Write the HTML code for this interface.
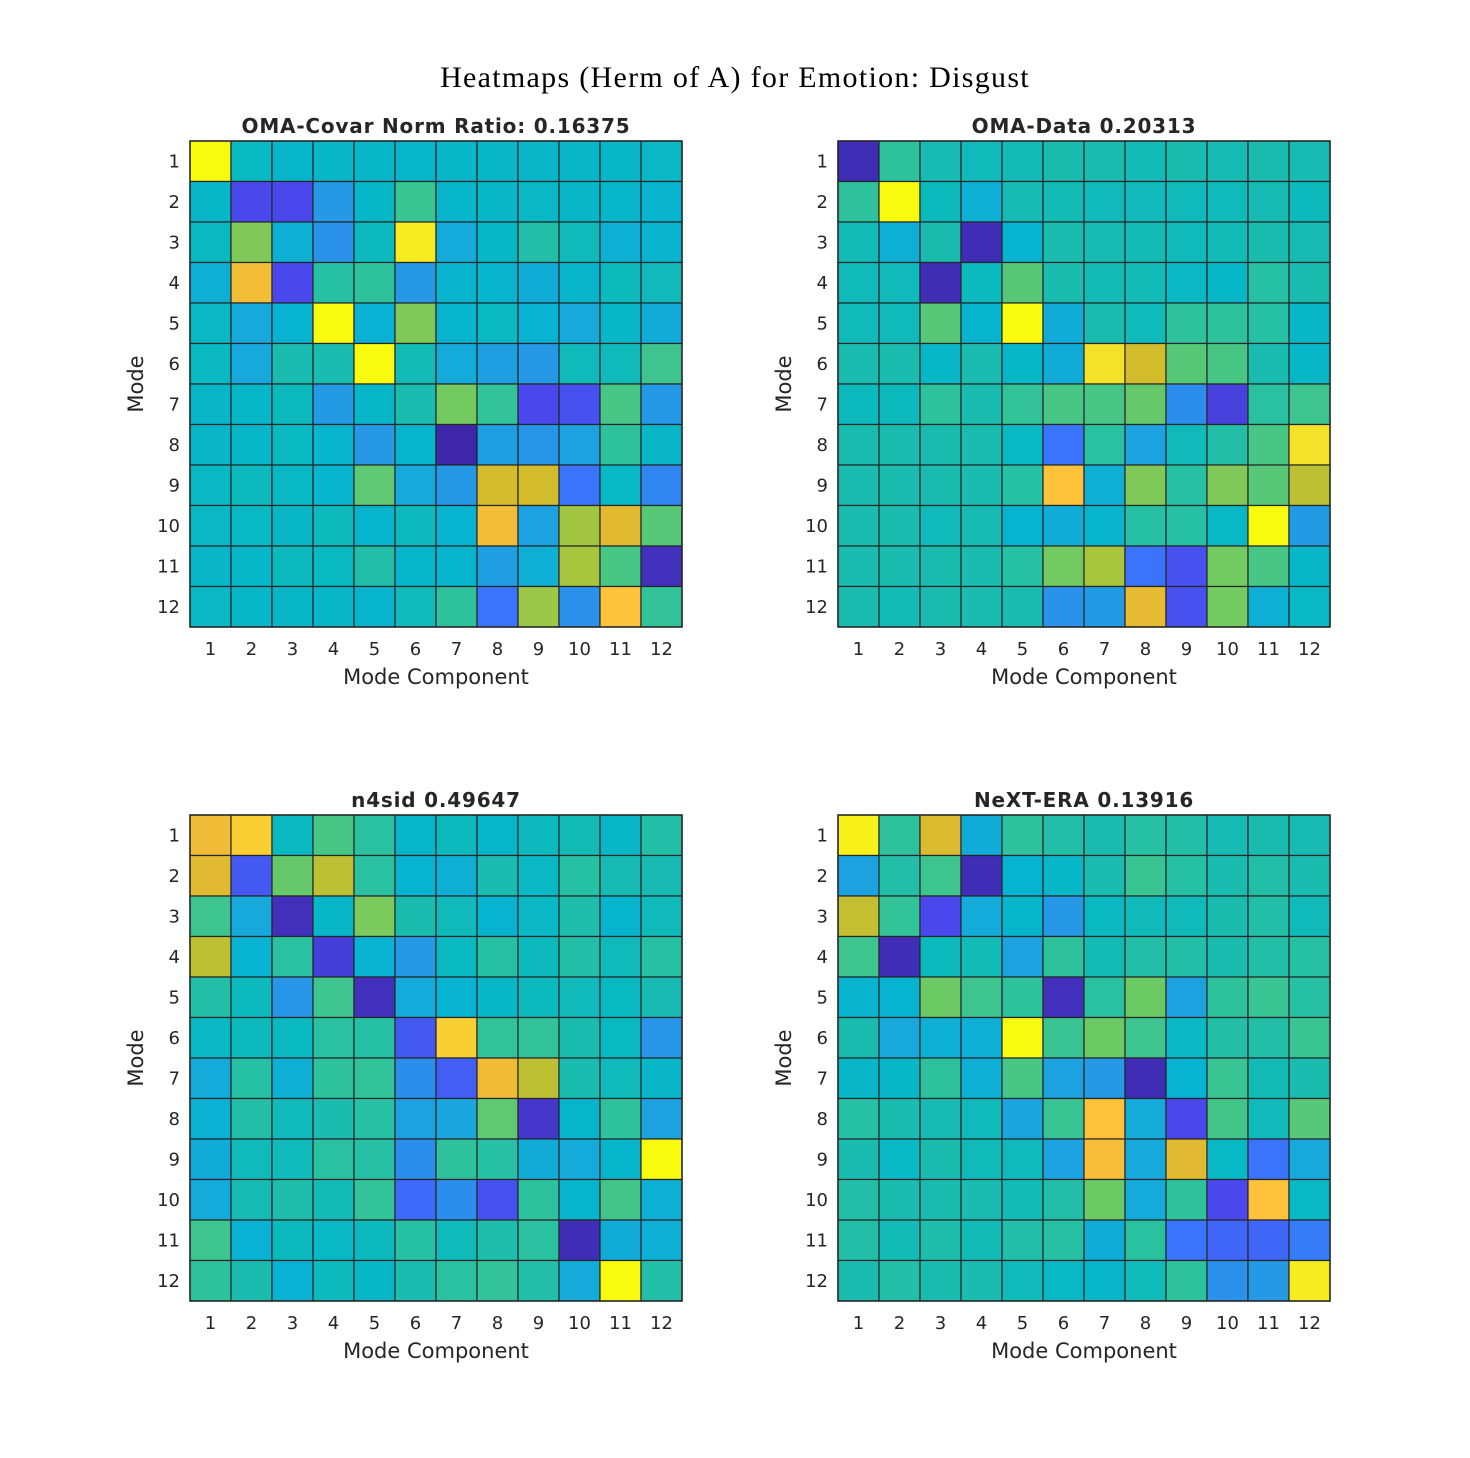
<!DOCTYPE html>
<html><head><meta charset="utf-8"><style>
html,body{margin:0;padding:0;background:#fff;}
svg{display:block;}
</style></head><body>
<svg id="fig" width="1470" height="1458" xmlns="http://www.w3.org/2000/svg">
<rect width="1470" height="1458" fill="#fff"/>
<text x="735" y="87" text-anchor="middle" font-family="'Liberation Serif',serif" font-size="30" letter-spacing="1.3" fill="#000">Heatmaps (Herm of A) for Emotion: Disgust</text>
</svg>
<script>
const rowLabels = ["1","2","3","4","5","6","7","8","9","10","11","12"];
const colLabels = ["1","2","3","4","5","6","7","8","9","10","11","12"];
const titles = ["OMA-Covar Norm Ratio: 0.16375","OMA-Data 0.20313","n4sid 0.49647","NeXT-ERA 0.13916"];
const omaCovar = [
[1.0,0.45,0.42,0.43,0.43,0.42,0.43,0.43,0.43,0.43,0.43,0.44],
[0.43,0.1,0.1,0.3,0.43,0.57,0.42,0.43,0.44,0.43,0.42,0.41],
[0.45,0.68,0.38,0.28,0.46,0.97,0.36,0.43,0.52,0.47,0.38,0.41],
[0.38,0.87,0.1,0.53,0.55,0.3,0.41,0.41,0.37,0.42,0.46,0.47],
[0.44,0.35,0.4,1.0,0.39,0.68,0.41,0.45,0.4,0.35,0.43,0.37],
[0.45,0.35,0.5,0.5,1.0,0.48,0.36,0.32,0.3,0.47,0.47,0.58],
[0.43,0.43,0.46,0.31,0.43,0.5,0.66,0.56,0.1,0.12,0.6,0.3],
[0.43,0.43,0.45,0.41,0.3,0.41,0.0,0.32,0.29,0.33,0.55,0.43],
[0.44,0.46,0.44,0.41,0.63,0.35,0.3,0.8,0.8,0.2,0.44,0.25],
[0.44,0.44,0.43,0.46,0.41,0.46,0.4,0.87,0.33,0.73,0.83,0.62],
[0.43,0.43,0.46,0.45,0.52,0.42,0.41,0.32,0.38,0.74,0.6,0.03],
[0.44,0.43,0.43,0.43,0.41,0.47,0.55,0.2,0.72,0.28,0.9,0.56]];
const omaData = [
[0.02,0.55,0.49,0.47,0.48,0.5,0.5,0.48,0.5,0.49,0.5,0.49],
[0.55,1.0,0.46,0.38,0.49,0.48,0.47,0.47,0.47,0.47,0.49,0.46],
[0.48,0.38,0.5,0.02,0.4,0.5,0.49,0.48,0.47,0.48,0.5,0.49],
[0.47,0.47,0.02,0.46,0.62,0.5,0.48,0.48,0.44,0.43,0.53,0.5],
[0.47,0.47,0.62,0.41,1.0,0.37,0.5,0.47,0.55,0.55,0.53,0.43],
[0.5,0.5,0.43,0.5,0.43,0.37,0.95,0.8,0.62,0.6,0.5,0.43],
[0.46,0.46,0.55,0.5,0.56,0.6,0.6,0.64,0.27,0.08,0.54,0.58],
[0.5,0.5,0.5,0.5,0.44,0.2,0.54,0.33,0.47,0.52,0.6,0.95],
[0.5,0.5,0.5,0.5,0.53,0.9,0.38,0.68,0.53,0.68,0.62,0.77],
[0.5,0.5,0.47,0.49,0.4,0.37,0.41,0.53,0.53,0.44,1.0,0.31],
[0.5,0.5,0.5,0.5,0.53,0.66,0.74,0.2,0.12,0.66,0.6,0.43],
[0.5,0.48,0.5,0.5,0.5,0.28,0.31,0.84,0.12,0.66,0.38,0.44]];
const n4sid = [
[0.86,0.92,0.45,0.6,0.54,0.42,0.46,0.42,0.46,0.48,0.43,0.52],
[0.83,0.14,0.64,0.77,0.54,0.4,0.38,0.5,0.44,0.53,0.49,0.49],
[0.58,0.35,0.03,0.43,0.67,0.5,0.47,0.4,0.44,0.51,0.41,0.47],
[0.77,0.4,0.54,0.07,0.39,0.3,0.45,0.53,0.46,0.52,0.47,0.53],
[0.52,0.46,0.29,0.58,0.03,0.36,0.4,0.43,0.46,0.47,0.45,0.49],
[0.44,0.46,0.45,0.54,0.53,0.14,0.92,0.56,0.56,0.5,0.45,0.29],
[0.36,0.53,0.38,0.55,0.56,0.27,0.15,0.86,0.77,0.5,0.47,0.43],
[0.39,0.52,0.47,0.5,0.53,0.33,0.34,0.63,0.05,0.42,0.55,0.33],
[0.37,0.47,0.47,0.54,0.53,0.27,0.55,0.53,0.37,0.36,0.42,1.0],
[0.36,0.49,0.51,0.48,0.56,0.18,0.27,0.12,0.55,0.41,0.59,0.38],
[0.58,0.39,0.46,0.44,0.46,0.53,0.47,0.51,0.54,0.02,0.37,0.38],
[0.55,0.5,0.39,0.46,0.43,0.5,0.54,0.56,0.52,0.36,1.0,0.52]];
const nextEra = [
[0.98,0.55,0.82,0.37,0.55,0.52,0.5,0.53,0.52,0.49,0.5,0.49],
[0.33,0.52,0.58,0.02,0.4,0.43,0.5,0.57,0.53,0.5,0.52,0.5],
[0.78,0.56,0.1,0.36,0.42,0.3,0.45,0.47,0.47,0.5,0.52,0.47],
[0.58,0.02,0.46,0.48,0.33,0.55,0.48,0.52,0.52,0.5,0.52,0.53],
[0.41,0.4,0.65,0.58,0.55,0.03,0.54,0.65,0.33,0.55,0.57,0.53],
[0.5,0.35,0.38,0.38,1.0,0.57,0.65,0.58,0.44,0.52,0.52,0.57],
[0.43,0.43,0.55,0.38,0.6,0.33,0.3,0.02,0.4,0.57,0.48,0.5],
[0.53,0.5,0.49,0.47,0.34,0.57,0.9,0.36,0.1,0.59,0.47,0.62],
[0.5,0.44,0.5,0.47,0.47,0.33,0.88,0.35,0.83,0.44,0.2,0.35],
[0.52,0.5,0.5,0.5,0.48,0.52,0.65,0.36,0.55,0.1,0.9,0.44],
[0.52,0.48,0.51,0.48,0.52,0.53,0.37,0.54,0.2,0.17,0.17,0.22],
[0.5,0.52,0.5,0.5,0.47,0.44,0.42,0.47,0.55,0.28,0.3,0.97]];
const datasets = [omaCovar, omaData, n4sid, nextEra];

const cmapStops = [[0,"#3e26a8"],[0.1,"#4a48ec"],[0.2,"#3a73fc"],[0.28,"#2a92ea"],[0.35,"#17a8dc"],[0.4,"#06b3d0"],[0.45,"#08b9c2"],[0.5,"#1bbcb0"],[0.55,"#2ec29c"],[0.6,"#48c686"],[0.65,"#6cca64"],[0.7,"#8ec952"],[0.75,"#b0c338"],[0.8,"#d2bc2c"],[0.85,"#ecb935"],[0.9,"#fec23b"],[0.95,"#f4e22a"],[1,"#f9fb0e"]];
function hex(h){return [1,3,5].map(i=>parseInt(h.substr(i,2),16));}
function cmap(v){
  v=Math.max(0,Math.min(1,v));
  for(let i=1;i<cmapStops.length;i++){
    if(v<=cmapStops[i][0]){
      const a=cmapStops[i-1],b=cmapStops[i];const t=(v-a[0])/(b[0]-a[0]);
      const ca=hex(a[1]),cb=hex(b[1]);
      return "rgb("+ca.map((c,k)=>Math.round(c+(cb[k]-c)*t)).join(",")+")";
    }
  }
  return cmapStops[cmapStops.length-1][1];
}
const NS="http://www.w3.org/2000/svg";
const svg=document.getElementById("fig");
function mk(tag,attrs,parent){const e=document.createElementNS(NS,tag);for(const k in attrs)e.setAttribute(k,attrs[k]);(parent||svg).appendChild(e);return e;}
const panels=[[190,141],[838,141],[190,815],[838,815]];
const W=492,H=486;
const font="'DejaVu Sans','Liberation Sans',sans-serif";
datasets.forEach((data,p)=>{
  const [x0,y0]=panels[p];
  const g=mk("g",{});
  
  
  const xs=j=>x0+j*W/colLabels.length;
  const ys=i=>y0+i*H/rowLabels.length;
  data.forEach((row,i)=>row.forEach((v,j)=>{
    const r=mk("rect",{x:xs(j),y:ys(i),width:W/colLabels.length,height:H/rowLabels.length,fill:cmap(v),stroke:"#262626","stroke-width":1.2},g);
    
    
  }));
  const b=mk("rect",{x:x0,y:y0,width:W,height:H,fill:"none",stroke:"#262626","stroke-width":1.5},g);
  
  
  const t=mk("text",{x:x0+W/2,y:y0-8,"text-anchor":"middle","font-family":font,"font-size":20,"font-weight":"bold","letter-spacing":0.8,fill:"#262626"},g);
  t.textContent=titles[p];
  
  
  colLabels.forEach((l,j)=>{
    const e=mk("text",{x:xs(j)+W/colLabels.length/2,y:y0+H+28,"text-anchor":"middle","font-family":font,"font-size":18,fill:"#262626"},g);
    e.textContent=l;
    
    
  });
  rowLabels.forEach((l,i)=>{
    const e=mk("text",{x:x0-10,y:ys(i)+H/rowLabels.length/2+6,"text-anchor":"end","font-family":font,"font-size":18,fill:"#262626"},g);
    e.textContent=l;
    
    
  });
  const xl=mk("text",{x:x0+W/2,y:y0+H+57,"text-anchor":"middle","font-family":font,"font-size":21,fill:"#262626"},g);
  xl.textContent="Mode Component";
  
  
  const cy=y0+H/2;
  const yl=mk("text",{x:x0-47,y:cy,"text-anchor":"middle","font-family":font,"font-size":21,fill:"#262626",transform:"rotate(-90 "+(x0-47)+" "+cy+")"},g);
  yl.textContent="Mode";
  
  
});
</script>
</body></html>
